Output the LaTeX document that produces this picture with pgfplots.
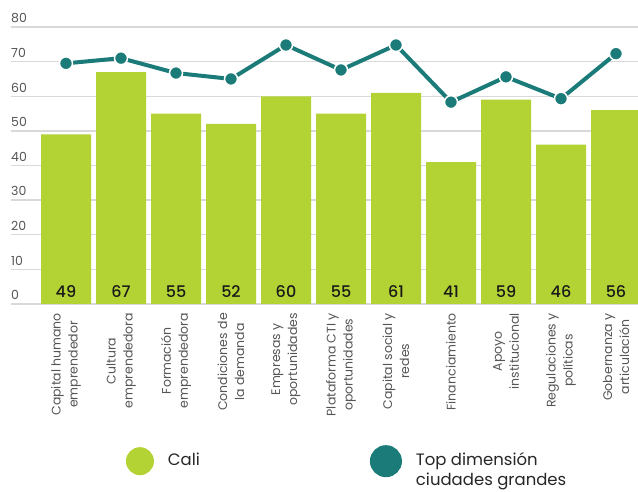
\documentclass[border=0pt]{standalone}
\usepackage{fontspec}
\setmainfont{Poppins}
\newfontfamily\pmed{Poppins Medium}
\usepackage{pgfplots}
\usepackage{pgfplotstable}
\pgfplotsset{compat=1.18}
\definecolor{calig}{HTML}{B3D335}
\definecolor{topteal}{HTML}{1B7B78}
\definecolor{gridg}{HTML}{D9D9D9}
\definecolor{tickg}{HTML}{555555}
\pgfplotstableread{
x cali top
0 49 69.5
1 67 71.0
2 55 66.7
3 52 65.0
4 60 74.8
5 55 67.6
6 61 74.8
7 41 58.3
8 59 65.6
9 46 59.3
10 56 72.3
}\datatab
\begin{document}
\begin{tikzpicture}
\path[use as bounding box] (0,0) rectangle (638pt,492pt);
\begin{axis}[
  scale only axis, width=627pt, height=277pt,
  at={(11pt,188pt)}, anchor=south west,
  xmin=-1, xmax=10.4, ymin=0, ymax=80,
  axis line style={draw=none},
  tick style={draw=none},
  ytick={0,10,...,80},
  ymajorgrids, grid style={gridg, line width=1.5pt},
  /pgf/number format/assume math mode=true,
  yticklabel style={anchor=south west, inner sep=0pt, yshift=4pt, text=tickg, font=\fontsize{12.5}{14}\selectfont},
  xtick={0,...,10},
  xticklabels={{Capital humano\\emprendedor},{Cultura\\emprendedora},{Formación\\emprendedora},{Condiciones de\\la demanda},{Empresas y\\oportunidades},{Plataforma CTI y\\oportunidades},{Capital social y\\redes},{Financiamiento},{Apoyo\\institucional},{Regulaciones y\\políticas},{Gobernanza y\\articulación}},
  xticklabel style={rotate=90, anchor=east, align=center, inner sep=0pt, text=tickg, font=\fontsize{12.5}{17}\selectfont},
  xticklabel shift=9pt,
  legend style={at={(rel axis cs:0.183,-0.509)}, anchor=north west, draw=none, fill=none, inner sep=0pt,
    font=\fontsize{16.5}{20}\selectfont, text=black!85,
    cells={align=left},
    /tikz/every odd column/.append style={column sep=12pt},
    /tikz/every even column/.append style={column sep=168pt}},
  legend cell align=left,
  legend columns=2,
]
\addplot[ybar, bar width=50pt, bar shift=0pt, fill=calig, draw=none,
  legend image code/.code={\path[draw=none,fill=none] (0pt,0.35em) ++(0,14pt) rectangle ++(28pt,-48pt); \fill[calig] (14pt,0.35em) ++(0,5.5pt) circle (14pt);}]
  table[x=x, y=cali] {\datatab};
\addlegendentry{Cali\\\mbox{}}
\addplot[topteal, line width=4pt, mark=*, mark size=6.5pt,
  mark options={fill=topteal, draw=white, line width=1.5pt},
  legend image code/.code={\path[draw=none,fill=none] (0pt,0.35em) ++(0,14pt) rectangle ++(28pt,-48pt); \fill[topteal] (14pt,0.35em) ++(0,5.5pt) circle (14pt);}]
  table[x=x, y=top] {\datatab};
\addlegendentry{Top dimensión\\ciudades grandes}
\addplot[draw=none, mark=none, nodes near coords, point meta=explicit symbolic,
  nodes near coords style={anchor=base, yshift=6.5pt, inner sep=0pt, text=black!90, font=\pmed\fontsize{16}{18}\selectfont},
  forget plot]
  table[x=x, y expr=0, meta=cali] {\datatab};
\end{axis}
\end{tikzpicture}
\end{document}
